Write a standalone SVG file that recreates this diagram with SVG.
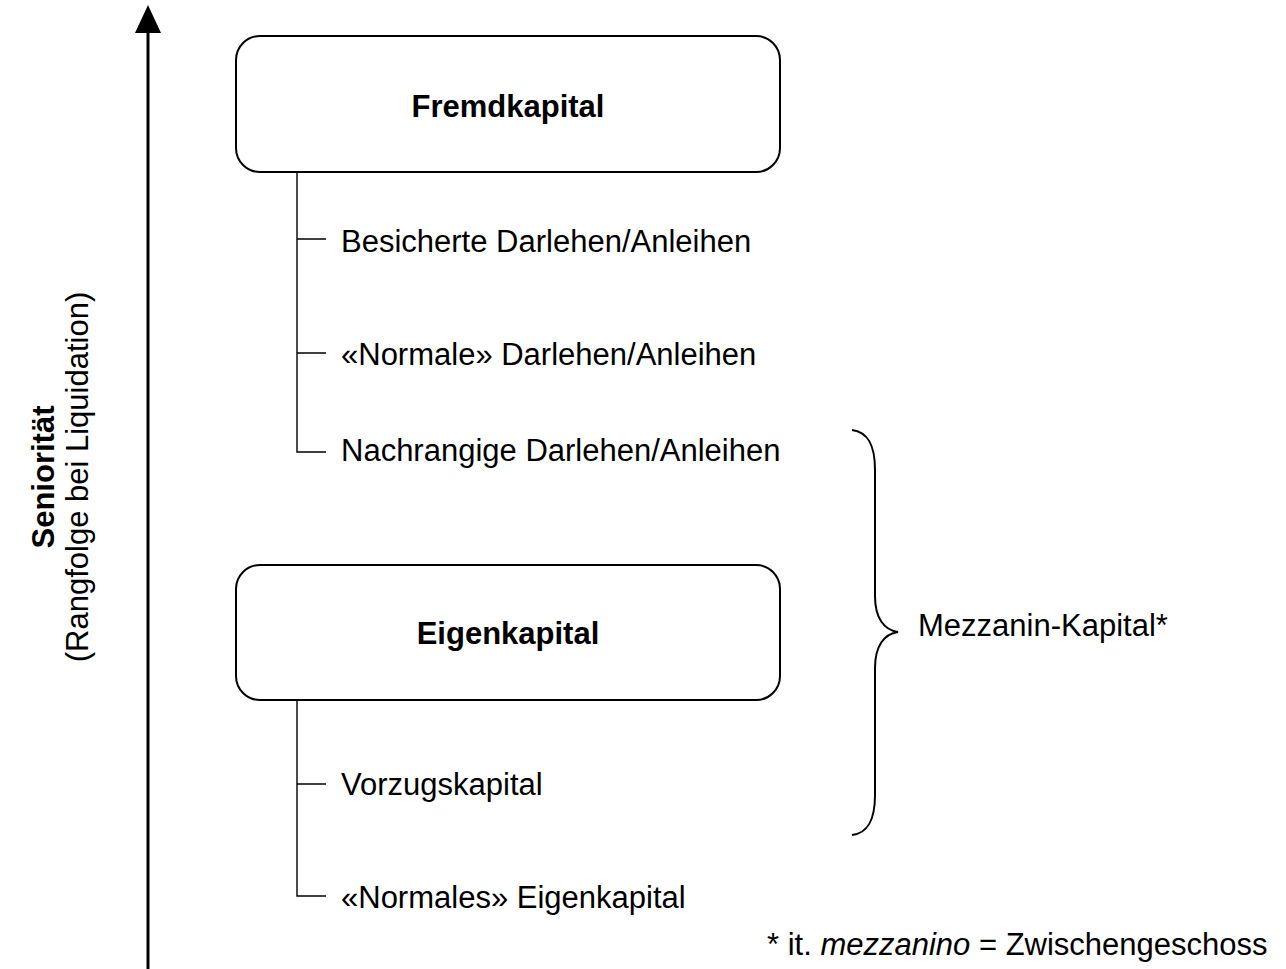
<svg xmlns="http://www.w3.org/2000/svg" width="1286" height="969" viewBox="0 0 1286 969">
  <style>
    .t { font-family: "Liberation Sans", Arial, sans-serif; font-size: 31px; fill: #000; }
    .b { font-weight: bold; }
    .box { fill: #fff; stroke: #000; stroke-width: 2; }
    .ln { fill: none; stroke: #000; stroke-width: 1.4; }
  </style>

  <!-- seniority axis -->
  <g id="axis">
    <line x1="148" y1="969" x2="148" y2="32" stroke="#000" stroke-width="3"/>
    <path d="M135,33 L148,5 L161,33 Z" fill="#000"/>
    <text class="t b" transform="translate(54,477) rotate(-90)" text-anchor="middle">Seniorität</text>
    <text class="t" transform="translate(88,477) rotate(-90)" text-anchor="middle">(Rangfolge bei Liquidation)</text>
  </g>

  <g id="connectors">
    <path class="ln" d="M297,172 V452 H326 M297,239 H326 M297,353 H326"/>
    <path class="ln" d="M297,700 V896 H326 M297,784 H326"/>
  </g>

  <g id="fremdkapital">
    <rect class="box" x="236" y="36" width="544" height="136" rx="24"/>
    <text class="t b" x="508" y="117" text-anchor="middle">Fremdkapital</text>
  </g>
  <g id="besicherte">
    <text class="t" x="341" y="252">Besicherte Darlehen/Anleihen</text>
  </g>
  <g id="normale">
    <text class="t" x="341" y="365">«Normale» Darlehen/Anleihen</text>
  </g>
  <g id="nachrangige">
    <text class="t" x="341" y="461">Nachrangige Darlehen/Anleihen</text>
  </g>

  <g id="eigenkapital">
    <rect class="box" x="236" y="565" width="544" height="135" rx="24"/>
    <text class="t b" x="508" y="644" text-anchor="middle">Eigenkapital</text>
  </g>
  <g id="vorzugskapital">
    <text class="t" x="341" y="795">Vorzugskapital</text>
  </g>
  <g id="normales">
    <text class="t" x="341" y="908">«Normales» Eigenkapital</text>
  </g>

  <g id="mezzanin">
    <path fill="none" stroke="#000" stroke-width="2" d="M852,430 C868,432 875,445 875,470 V596 C875,618 884,630 898,632 C884,634 875,646 875,668 V795 C875,820 868,833 852,835"/>
    <text class="t" x="918" y="636">Mezzanin-Kapital*</text>
  </g>

  <g id="footnote">
    <text class="t" x="767" y="955">* it. <tspan font-style="italic">mezzanino</tspan> = Zwischengeschoss</text>
  </g>
</svg>
